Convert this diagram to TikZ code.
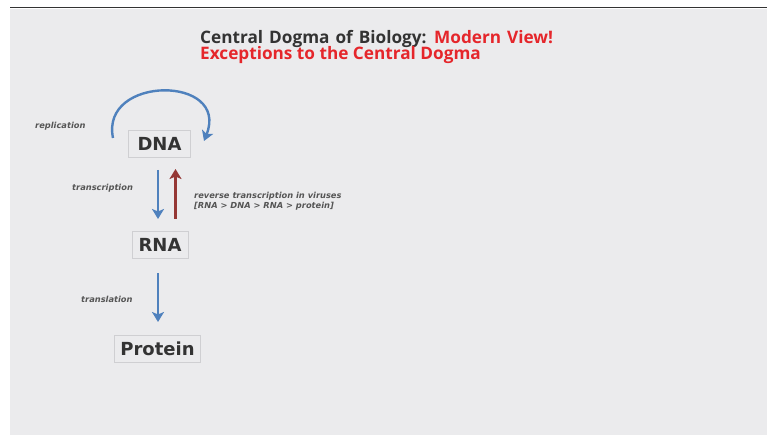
\documentclass[tikz,border=0pt]{standalone}
\usepackage{fontspec}
\setmainfont{DejaVu Sans}
\newfontfamily\titlefont[Ligatures=NoCommon]{Open Sans}
\usetikzlibrary{arrows.meta}
\definecolor{slide}{HTML}{EBEBED}
\definecolor{ttl}{HTML}{333333}
\definecolor{tred}{HTML}{E5262B}
\definecolor{ablue}{HTML}{4F81BD}
\definecolor{ared}{HTML}{953735}
\definecolor{lbl}{HTML}{555555}
\definecolor{boxline}{HTML}{CFCFD2}
\tikzset{
  mol/.style={draw=boxline, line width=0.8pt, fill=slide, font=\fontsize{18}{20}\selectfont\bfseries, text=ttl, inner sep=0pt, minimum height=27pt},
  lab/.style={font=\fontsize{8.3}{10.5}\selectfont\bfseries\itshape, text=lbl, inner sep=0pt},
  flow/.style={line width=2.4pt, -{Stealth[length=10pt,width=12pt,inset=2.5pt]}},
  ttlstyle/.style={anchor=base west, inner sep=0pt, font=\titlefont\fontsize{17.2}{19}\selectfont\bfseries},
}
\begin{document}
\begin{tikzpicture}[x=1pt,y=-1pt]
\useasboundingbox (0,0) rectangle (767,435);
\fill[white] (0,0) rectangle (767,435);
\fill[slide] (10,9) rectangle (767,435);
\draw[line width=1.3pt, color=black!80] (10,7.3) -- (767,7.3);
\node[ttlstyle] (t1) at (200,43.5) {\spaceskip=6pt plus 1pt\textcolor{ttl}{Central Dogma of Biology:} \textcolor{tred}{Modern View!}};
\node[ttlstyle, text=tred] (t2) at (200,59.5) {Exceptions to the Central Dogma};
\node[mol, minimum width=62pt] (dna) at (159.5,144) {DNA};
\node[mol, minimum width=56pt] (rna) at (160,245) {RNA};
\node[mol, minimum width=86pt] (prot) at (157.5,348.5) {Protein};
\coordinate (rs) at (113,138);
\coordinate (re) at (204,141);
\draw[flow, ablue] (rs) .. controls (100,75) and (230,75) .. (re);
\node[lab, anchor=west] (rep) at (35,126) {replication};
\coordinate (b1) at (158,170);
\coordinate (b2) at (158,219);
\draw[flow, ablue] (b1) -- (b2);
\coordinate (r1) at (175.5,219);
\coordinate (r2) at (175.5,169);
\draw[flow, ared] (r1) -- (r2);
\node[lab, anchor=west] (trs) at (72,188) {transcription};
\node[lab, anchor=west, align=left] (rev) at (194,201) {reverse transcription in viruses\\{}[RNA > DNA > RNA > protein]};
\coordinate (l1) at (158,273);
\coordinate (l2) at (158,322);
\draw[flow, ablue] (l1) -- (l2);
\node[lab, anchor=west] (trl) at (81,299) {translation};
\end{tikzpicture}
\end{document}
